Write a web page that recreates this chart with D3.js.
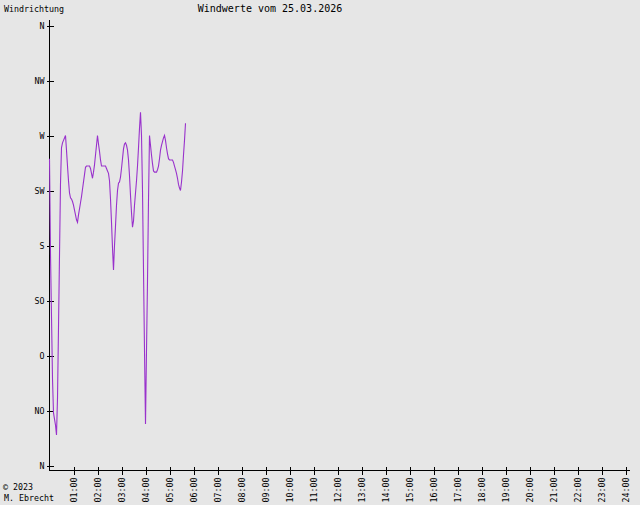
<!DOCTYPE html>
<html><head><meta charset="utf-8">
<script src="https://cdn.jsdelivr.net/npm/d3@7"></script>
<style>
html,body{margin:0;padding:0;background:#e6e6e6;}
svg{display:block;}
text{font-family:"DejaVu Sans Mono","Liberation Mono",monospace;fill:#000;}
</style></head>
<body>
<svg id="chart" width="640" height="505"></svg>
<script>
const title = "Windwerte vom 25.03.2026";
const yTitle = "Windrichtung";
const credits = ["\u00A9 2023", "M. Ebrecht"];
const dirDegrees = [0,45,90,135,180,225,270,315,360];
const dirLabels = ["N","NO","O","SO","S","SW","W","NW","N"];
const hourTicks = d3.range(1,25);
const hourLabels = hourTicks.map(h => String(h).padStart(2,"0") + ":00");
const stepMinutes = 2.5;
const windDir = [251,173,122,71,43,38,33,25,55,113,
172,231,260,264,266,268,270,258,245,233,
223,219,218,216,213,209,205,201,199,205,
210,215,220,226,232,238,244,245,245,245,
245,243,239,235,240,246,254,262,270,263,
257,250,245,245,245,245,245,243,241,239,
233,218,199,178,160,180,196,213,225,231,
232,236,243,251,259,263,264,262,258,250,
237,221,207,195,200,213,223,233,245,260,
276,289,270,225,160,94,34,94,151,217,
270,262,254,247,241,240,240,240,242,245,
251,258,262,265,268,270,266,260,255,251,
250,250,250,250,248,245,242,239,235,230,
227,225,232,241,254,266,280];

const svg = d3.select("#chart");
svg.append("rect").attr("width",640).attr("height",505).attr("fill","#e6e6e6");

const x = d3.scaleLinear().domain([0,1440]).range([49,625]);
const y = d3.scaleLinear().domain([0,360]).range([465,25]);

// titles
svg.append("text").attr("x",270).attr("y",12).attr("text-anchor","middle")
  .style("font-size","10px").text(title);
svg.append("text").attr("x",4).attr("y",12)
  .style("font-size","8.3px").text(yTitle);
svg.append("text").attr("x",3).attr("y",490).style("font-size","8.3px").text(credits[0]);
svg.append("text").attr("x",4).attr("y",501).style("font-size","8.3px").text(credits[1]);

// y axis
const yAxis = d3.axisLeft(y).tickValues(dirDegrees)
  .tickFormat((d,i) => dirLabels[i]).tickSize(0).tickPadding(0);
const gy = svg.append("g").attr("transform","translate(49.5,0.5)").call(yAxis);
gy.select(".domain").remove();
gy.selectAll(".tick line").remove();
gy.selectAll(".tick text").attr("x",-5).style("font-size","8.3px")
  .style("font-family","DejaVu Sans Mono").attr("fill","#000");
gy.selectAll(".tick").append("line").attr("x1",-3).attr("x2",4)
  .attr("stroke","#000").attr("shape-rendering","crispEdges");
svg.append("line").attr("x1",49.5).attr("x2",49.5).attr("y1",20).attr("y2",470.5)
  .attr("stroke","#000").attr("shape-rendering","crispEdges");

// x axis
const xAxis = d3.axisBottom(x).tickValues(hourTicks.map(h=>h*60))
  .tickFormat((d,i) => hourLabels[i]).tickSize(0);
const gx = svg.append("g").attr("transform","translate(0.5,470.5)").call(xAxis);
gx.select(".domain").remove();
gx.selectAll(".tick line").remove();
gx.selectAll(".tick").append("line").attr("y1",-4).attr("y2",4)
  .attr("stroke","#000").attr("shape-rendering","crispEdges");
gx.selectAll(".tick text").attr("transform","rotate(-90)")
  .attr("x",-7).attr("y",0).attr("dy","0.32em").attr("text-anchor","end")
  .style("font-size","8.3px").style("font-family","DejaVu Sans Mono").attr("fill","#000");
svg.append("line").attr("x1",49).attr("x2",630).attr("y1",470.5).attr("y2",470.5)
  .attr("stroke","#000").attr("shape-rendering","crispEdges");

// wind direction line
const line = d3.line().x((d,i) => x(i*stepMinutes) + 0.5).y(d => y(d) + 0.5);
svg.append("path").datum(windDir).attr("d",line)
  .attr("fill","none").attr("stroke","#9932cc").attr("stroke-width",1.1);
</script>
</body></html>
